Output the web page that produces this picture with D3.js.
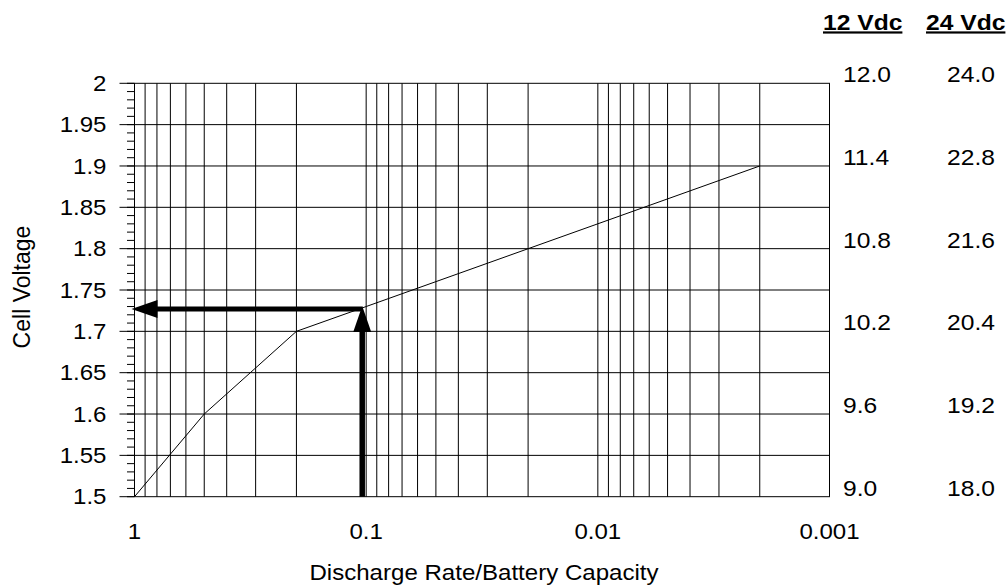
<!DOCTYPE html>
<html>
<head>
<meta charset="utf-8">
<script src="https://cdn.jsdelivr.net/npm/d3@7"></script>
<style>
  body { margin: 0; background: #fff; }
  svg { display: block; }
  text { font-family: "Liberation Sans", Arial, sans-serif; fill: #000; }
</style>
</head>
<body>
<div id="chart"></div>
<script>
// discharge curve (rate = discharge current / battery capacity)
var rates = [1, 0.5, 0.2, 0.1, 0.002];
var cellVolts = [1.5, 1.6, 1.7, 1.73, 1.9];

// marked operating point (arrows)
var arrowRate = 0.104;
var arrowLevel = 1.727;

// axis labels
var yTickValues = [2, 1.95, 1.9, 1.85, 1.8, 1.75, 1.7, 1.65, 1.6, 1.55, 1.5];
var yTickLabels = ["2", "1.95", "1.9", "1.85", "1.8", "1.75", "1.7", "1.65", "1.6", "1.55", "1.5"];
var xTickValues = [1, 0.1, 0.01, 0.001];
var xTickLabels = ["1", "0.1", "0.01", "0.001"];

// battery voltage columns on the right
var batteryHeaders = ["12 Vdc", "24 Vdc"];
var batteryRows = [2.0, 1.9, 1.8, 1.7, 1.6, 1.5];
var vdc12 = ["12.0", "11.4", "10.8", "10.2", "9.6", "9.0"];
var vdc24 = ["24.0", "22.8", "21.6", "20.4", "19.2", "18.0"];

var W = 1008, H = 586;
var pLeft = 134.5, pRight = 829.5, pTop = 83.3, pBottom = 496.7;
var stretch = 1.12;

var svg = d3.select("#chart").append("svg").attr("width", W).attr("height", H);

var x = d3.scaleLog().domain([1, 0.001]).range([pLeft, pRight]);
var y = d3.scaleLinear().domain([1.5, 2]).range([pBottom, pTop]);

// helper for text (the reference glyphs are a bit wider than Arial)
function label(g, px, py, txt, size, anchor) {
    return g.append("text")
        .attr("transform", "translate(" + px + "," + py + ") scale(" + stretch + ",1)")
        .attr("text-anchor", anchor || "start")
        .style("font-size", size + "px")
        .text(txt);
}

var grid = svg.append("g").attr("fill", "none").attr("stroke", "#000").attr("stroke-width", 1);

// vertical log grid lines
grid.selectAll("line.vx").data(x.ticks()).enter().append("line")
    .attr("class", "vx")
    .attr("x1", function(d) { return x(d); })
    .attr("x2", function(d) { return x(d); })
    .attr("y1", pTop).attr("y2", pBottom);

// horizontal grid lines (extend left as major ticks)
grid.selectAll("line.hy").data(yTickValues).enter().append("line")
    .attr("class", "hy")
    .attr("x1", pLeft - 15).attr("x2", pRight + 0.5)
    .attr("y1", function(d) { return y(d); })
    .attr("y2", function(d) { return y(d); });

// minor ticks every 0.01
grid.selectAll("line.mt").data(y.ticks(50)).enter().append("line")
    .attr("class", "mt")
    .attr("x1", pLeft - 7.5).attr("x2", pLeft)
    .attr("y1", function(d) { return y(d); })
    .attr("y2", function(d) { return y(d); });

// curve
var line = d3.line()
    .x(function(d) { return x(d[0]); })
    .y(function(d) { return y(d[1]); });
svg.append("path")
    .datum(d3.zip(rates, cellVolts))
    .attr("d", line)
    .attr("fill", "none")
    .attr("stroke", "#000")
    .attr("stroke-width", 1);

// arrows
var ax = x(arrowRate), ay = y(arrowLevel);
var headLen = 26, headHalf = 9;
var arrows = svg.append("g");
arrows.append("line")
    .attr("x1", ax).attr("x2", ax)
    .attr("y1", pBottom).attr("y2", ay - 3 + headLen - 1)
    .attr("stroke", "#000").attr("stroke-width", 5.5);
arrows.append("path")
    .attr("d", "M" + ax + "," + (ay - 3) + "L" + (ax - headHalf) + "," + (ay - 3 + headLen) + "L" + (ax + headHalf) + "," + (ay - 3 + headLen) + "Z")
    .attr("fill", "#000");
arrows.append("line")
    .attr("x1", ax).attr("x2", pLeft - 3 + headLen - 1)
    .attr("y1", ay).attr("y2", ay)
    .attr("stroke", "#000").attr("stroke-width", 5);
arrows.append("path")
    .attr("d", "M" + (pLeft - 3) + "," + ay + "L" + (pLeft - 3 + headLen) + "," + (ay - headHalf) + "L" + (pLeft - 3 + headLen) + "," + (ay + headHalf) + "Z")
    .attr("fill", "#000");

// y tick labels
var yl = svg.append("g");
yTickValues.forEach(function(v, i) {
    label(yl, pLeft - 28, y(v) + 7.6, yTickLabels[i], 21.5, "end");
});

// x tick labels
var xl = svg.append("g");
xTickValues.forEach(function(v, i) {
    label(xl, x(v), 539, xTickLabels[i], 21.5, "middle");
});

// axis titles
label(svg, 484, 580, "Discharge Rate/Battery Capacity", 21.5, "middle");
svg.append("text")
    .attr("transform", "translate(29.5,287) rotate(-90)")
    .attr("text-anchor", "middle")
    .style("font-size", "23px")
    .text("Cell Voltage");

// battery voltage columns
var rc = svg.append("g");
var colX = [843, 947];
var headX = [823, 926];
batteryHeaders.forEach(function(h, i) {
    label(rc, headX[i], 29.5, h, 22, "start")
        .style("font-weight", "bold")
        .style("text-decoration", "underline");
});
batteryRows.forEach(function(v, i) {
    label(rc, colX[0], y(v) - 1, vdc12[i], 22, "start");
    label(rc, colX[1], y(v) - 1, vdc24[i], 22, "start");
});
</script>
</body>
</html>
